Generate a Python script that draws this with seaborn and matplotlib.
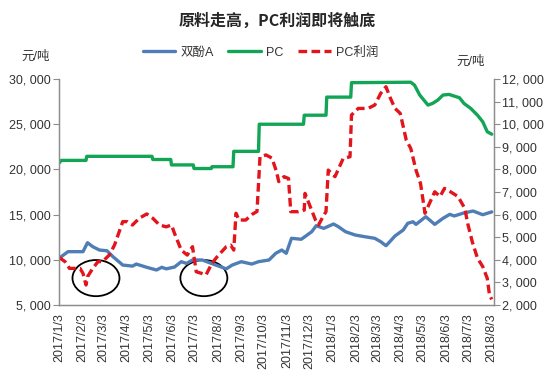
import matplotlib
matplotlib.use("Agg")

import matplotlib.dates as mdates
import matplotlib.pyplot as plt
import pandas as pd
import seaborn as sns
from matplotlib.patches import Ellipse
from matplotlib.ticker import FuncFormatter, MultipleLocator

# 双酚A (left axis)
bpa_dates = [
    "2017-01-03", "2017-01-15", "2017-02-04", "2017-02-10", "2017-02-17", "2017-02-26",
    "2017-03-08", "2017-03-16", "2017-03-29", "2017-04-11", "2017-04-16", "2017-04-30",
    "2017-05-13", "2017-05-20", "2017-05-26", "2017-06-06", "2017-06-15", "2017-06-22",
    "2017-06-30", "2017-07-13", "2017-07-22", "2017-07-31", "2017-08-14", "2017-08-22",
    "2017-09-03", "2017-09-17", "2017-09-26", "2017-10-10", "2017-10-19", "2017-10-27",
    "2017-11-02", "2017-11-09", "2017-11-22", "2017-12-06", "2017-12-12", "2017-12-22",
    "2018-01-04", "2018-01-10", "2018-01-20", "2018-02-02", "2018-02-15", "2018-02-28",
    "2018-03-08", "2018-03-15", "2018-03-20", "2018-03-27", "2018-04-07", "2018-04-13",
    "2018-04-20", "2018-04-24", "2018-05-07", "2018-05-19", "2018-05-30", "2018-06-08",
    "2018-06-14", "2018-06-25", "2018-07-09", "2018-07-22", "2018-08-03",
]
bpa_values = [
    10165, 10900, 10900, 11890, 11450, 11080,
    11000, 10340, 9420, 9300, 9530, 9170,
    8870, 9170, 9000, 9200, 9790, 9600,
    9980, 9980, 9700, 9420, 9000, 9420,
    9790, 9530, 9790, 9980, 10720, 11080,
    10720, 12380, 12270, 13110, 13780, 13480,
    13960, 13690, 13110, 12740, 12550, 12380,
    12000, 11560, 12000, 12640, 13300, 14040,
    14210, 13920, 14770, 13920, 14590, 15030,
    14850, 15140, 15400, 14990, 15300,
]

# PC (left axis)
pc_dates = [
    "2017-01-03", "2017-01-06", "2017-02-08", "2017-02-09", "2017-05-07", "2017-05-08",
    "2017-06-01", "2017-06-02", "2017-07-01", "2017-07-02", "2017-07-25", "2017-07-26",
    "2017-08-23", "2017-08-24", "2017-09-26", "2017-09-27", "2017-11-25", "2017-11-26",
    "2017-12-25", "2017-12-26", "2018-01-27", "2018-01-28", "2018-04-17", "2018-04-22",
    "2018-04-29", "2018-05-10", "2018-05-16", "2018-05-23", "2018-05-30", "2018-06-07",
    "2018-06-21", "2018-06-27", "2018-07-06", "2018-07-15", "2018-07-22", "2018-07-28",
    "2018-08-03",
]
pc_values = [
    20700, 21000, 21000, 21450, 21450, 21100,
    21100, 20500, 20500, 20100, 20100, 20300,
    20300, 22000, 22000, 25000, 25000, 26000,
    26000, 28000, 28000, 29600, 29650, 29330,
    28230, 27120, 27300, 27670, 28230, 28300,
    27930, 27300, 26750, 26000, 25270, 24170,
    23900,
]

# PC利润 (right axis)
profit_dates = [
    "2017-01-03", "2017-01-11", "2017-01-17", "2017-01-31", "2017-02-04", "2017-02-08",
    "2017-02-10", "2017-02-17", "2017-02-24", "2017-03-02", "2017-03-11", "2017-03-18",
    "2017-03-29", "2017-04-04", "2017-04-11", "2017-04-20", "2017-04-30", "2017-05-08",
    "2017-05-17", "2017-05-26", "2017-06-02", "2017-06-06", "2017-06-15", "2017-06-23",
    "2017-06-30", "2017-07-05", "2017-07-12", "2017-07-18", "2017-07-26", "2017-08-02",
    "2017-08-14", "2017-08-20", "2017-08-24", "2017-08-27", "2017-08-31", "2017-09-09",
    "2017-09-17", "2017-09-24", "2017-09-28", "2017-10-06", "2017-10-14", "2017-10-20",
    "2017-10-23", "2017-10-30", "2017-11-05", "2017-11-08", "2017-11-18", "2017-11-26",
    "2017-11-27", "2017-12-04", "2017-12-11", "2017-12-15", "2017-12-21", "2017-12-25",
    "2017-12-28", "2018-01-06", "2018-01-17", "2018-01-26", "2018-01-28", "2018-02-06",
    "2018-02-19", "2018-02-28", "2018-03-08", "2018-03-15", "2018-03-20", "2018-03-27",
    "2018-04-03", "2018-04-11", "2018-04-17", "2018-04-24", "2018-04-30", "2018-05-06",
    "2018-05-12", "2018-05-19", "2018-05-26", "2018-06-01", "2018-06-09", "2018-06-19",
    "2018-06-28", "2018-07-02", "2018-07-08", "2018-07-15", "2018-07-22", "2018-07-28",
    "2018-07-31", "2018-08-03",
]
profit_values = [
    4110, 3920, 3620, 3620, 3400, 2885,
    3250, 3620, 3920, 3920, 4210, 4650,
    5690, 5690, 5540, 5840, 6030, 5840,
    5540, 5460, 5540, 5170, 4430, 4210,
    4580, 3470, 3400, 3330, 3850, 4140,
    4580, 4650, 4430, 6060, 5760, 5760,
    6000, 6140, 8560, 8640, 8500, 7900,
    7460, 7680, 7600, 6130, 6130, 6200,
    6940, 6350, 5760, 5540, 5910, 6130,
    7970, 7680, 8490, 8560, 10410, 10700,
    10700, 10850, 11370, 11660, 11220, 10700,
    10480, 9300, 8930, 7970, 7380, 6060,
    6500, 7010, 6800, 7160, 7010, 6800,
    6280, 5600, 4800, 4070, 3700, 3180,
    2440, 2250,
]

title = "原料走高，PC利润即将触底"
unit = "元/吨"

bpa_df = pd.DataFrame({"date": pd.to_datetime(bpa_dates), "value": bpa_values})
pc_df = pd.DataFrame({"date": pd.to_datetime(pc_dates), "value": pc_values})
profit_df = pd.DataFrame({"date": pd.to_datetime(profit_dates), "value": profit_values})

sns.set_style("white")
plt.rcParams["font.family"] = ["Liberation Sans", "Noto Sans CJK SC", "DejaVu Sans"]

fig = plt.figure(figsize=(5.54, 3.81), dpi=100)
ax = fig.add_axes([0.1065, 0.1995, 0.7852, 0.593])
ax2 = ax.twinx()

sns.lineplot(data=bpa_df, x="date", y="value", ax=ax, color="#4F7DB6", lw=2.4, label="双酚A", legend=False)
sns.lineplot(data=pc_df, x="date", y="value", ax=ax, color="#12A555", lw=2.4, label="PC", legend=False)
sns.lineplot(data=profit_df, x="date", y="value", ax=ax2, color="#E2141C", lw=2.4, label="PC利润", legend=False)
ax2.lines[0].set_dashes([2.6, 1.3])

ax.set_xlim(pd.Timestamp("2017-01-03"), pd.Timestamp("2018-08-06"))
ax.set_ylim(5000, 30000)
ax2.set_ylim(2000, 12000)
ax.yaxis.set_major_locator(MultipleLocator(5000))
ax2.yaxis.set_major_locator(MultipleLocator(1000))

fmt = FuncFormatter(lambda v, _: f"{int(v):,}".replace(",", ", "))
ax.yaxis.set_major_formatter(fmt)
ax2.yaxis.set_major_formatter(fmt)

month_ticks = pd.date_range("2017-01-03", periods=20, freq=pd.DateOffset(months=1))
ax.set_xticks(month_ticks)
ax.xaxis.set_major_formatter(FuncFormatter(
    lambda v, _: (lambda d: f"{d.year}/{d.month}/{d.day}")(mdates.num2date(v))))
for lbl in ax.get_xticklabels():
    lbl.set_rotation(90)

ax.set_xlabel("")
ax.set_ylabel("")
ax2.set_ylabel("")

for a in (ax, ax2):
    a.spines["top"].set_visible(False)
    for s in ("left", "right", "bottom"):
        a.spines[s].set_color("#8C8C8C")
        a.spines[s].set_linewidth(0.9)
    a.tick_params(axis="both", length=4, width=0.8, color="#8C8C8C",
                  labelsize=9, labelcolor="#333333", pad=2)
ax.tick_params(axis="y", left=True, right=False)
ax2.tick_params(axis="y", right=True, left=False)

# highlight circles
for cx in (0.085, 0.333):
    ax.add_patch(Ellipse((cx, 0.119), 0.108, 0.16, transform=ax.transAxes,
                         fill=False, edgecolor="black", lw=1.3))

fig.text(0.5, 0.945, title, ha="center", va="center", fontsize=11.5, fontweight="bold",
         family=["Noto Sans CJK SC", "DejaVu Sans"])
fig.text(0.065, 0.85, unit, ha="center", va="center", fontsize=9, color="#333333")
fig.text(0.85, 0.838, unit, ha="center", va="center", fontsize=9, color="#333333")

handles = ax.get_lines() + ax2.get_lines()
leg = fig.legend(handles, [h.get_label() for h in handles], loc="center",
                 bbox_to_anchor=(0.47, 0.862), ncol=3, frameon=False, fontsize=9,
                 handlelength=2.6, columnspacing=1.2, handletextpad=0.4)
for t in leg.get_texts():
    t.set_color("#333333")

fig.savefig("out.png", dpi=100)
